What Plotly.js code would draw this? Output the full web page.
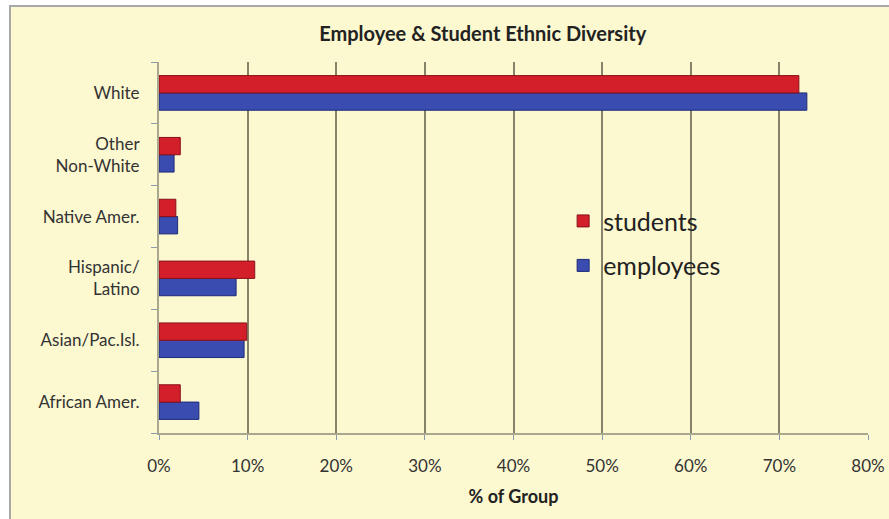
<!DOCTYPE html>
<html><head><meta charset="utf-8">
<script src="https://cdn.plot.ly/plotly-3.0.1.min.js"></script>
<style>
html,body{margin:0;padding:0;background:#ffffff;width:889px;height:519px;overflow:hidden;}
#frame{position:absolute;left:9px;top:5px;width:900px;height:600px;background:#FCF8D0;border:2px solid #a8a8a8;box-sizing:border-box;}
#chart{position:absolute;left:0;top:0;width:889px;height:519px;}
</style></head>
<body>
<div id="frame"></div>
<div id="chart"></div>
<script>
const categories = ["African Amer.", "Asian/Pac.Isl.", "Hispanic/<br>Latino", "Native Amer.", "Other<br>Non-White", "White"];
const students = [2.4, 9.9, 10.8, 1.9, 2.4, 72.2];
const employees = [4.5, 9.6, 8.7, 2.1, 1.7, 73.1];
const xTickVals = [0, 10, 20, 30, 40, 50, 60, 70, 80];
const xTickText = ["0%", "10%", "20%", "30%", "40%", "50%", "60%", "70%", "80%"];

const font = "Lato, Open Sans, sans-serif";
const traces = [
  {type:"bar", orientation:"h", name:"employees", legendgroup:"e", legendrank:2, y:categories, x:employees,
   marker:{color:"#3A4CB0", line:{color:"#1E2A78", width:1}}},
  {type:"bar", orientation:"h", name:"students", legendgroup:"s", legendrank:1, y:categories, x:students,
   marker:{color:"#D21F2A", line:{color:"#8A1018", width:1}}}
];
const layout = {
  width:889, height:519,
  paper_bgcolor:"rgba(0,0,0,0)", plot_bgcolor:"#FCF8D0",
  margin:{l:159, r:21, t:62, b:86},
  barmode:"group", bargap:0.44, bargroupgap:0,
  showlegend:true,
  legend:{x:0.57, y:0.633, xanchor:"left", yanchor:"top", traceorder:"grouped",
          bgcolor:"rgba(0,0,0,0)", font:{family:font, size:25, color:"#222"},
          itemwidth:30, tracegroupgap:9},
  title:{text:"<b>Employee & Student Ethnic Diversity</b>", x:0.543, xanchor:"center", y:0.935, yanchor:"middle",
         font:{family:font, size:20, color:"#222"}},
  xaxis:{range:[0,80], tickvals:xTickVals, ticktext:xTickText,
         showgrid:true, gridcolor:"#85836A", gridwidth:2,
         showline:true, linecolor:"#A9A88E", linewidth:2,
         ticks:"outside", ticklen:5, tickcolor:"#8C9AB0",
         tickfont:{family:font, size:17, color:"#333"}, ticklabelstandoff:12, zeroline:false,
         title:{text:"<b>% of Group</b>", font:{family:font, size:18, color:"#222"}, standoff:15}},
  yaxis:{categoryorder:"array", categoryarray:categories,
         showline:true, linecolor:"#A9A88E", linewidth:2,
         ticks:"outside", tickson:"boundaries", ticklen:6, tickcolor:"#8C9AB0",
         tickfont:{family:font, size:17, color:"#333"}, ticklabelstandoff:14,
         showgrid:false}
};
Plotly.newPlot("chart", traces, layout, {displayModeBar:false, staticPlot:true});
</script>
</body></html>
